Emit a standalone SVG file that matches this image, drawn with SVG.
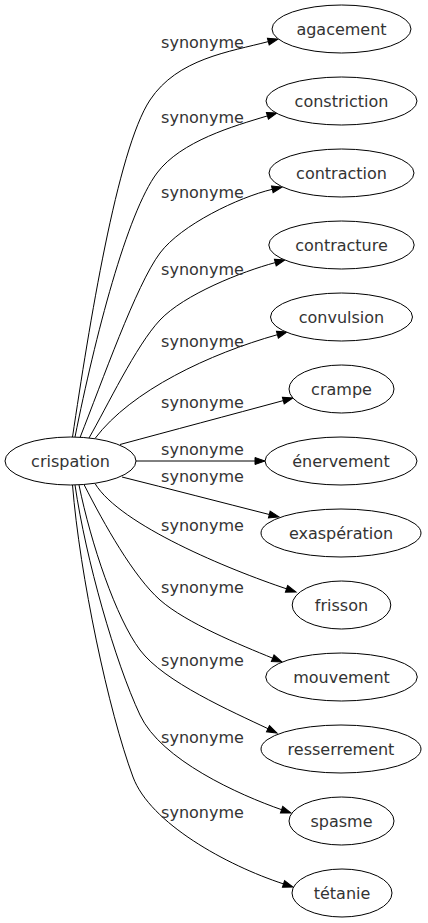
<svg xmlns="http://www.w3.org/2000/svg" width="428" height="923" viewBox="0 0 428 923">
<style>
.n ellipse{fill:#fff;stroke:#000;stroke-width:1}
.n text{font-family:"DejaVu Sans",sans-serif;font-size:16px;fill:#333;text-anchor:middle}
.e path{fill:none;stroke:#000;stroke-width:1;marker-end:url(#ah)}
.e text{font-family:"DejaVu Sans",sans-serif;font-size:16px;fill:#333;text-anchor:middle}
</style>
<defs>
<marker id="ah" markerUnits="userSpaceOnUse" markerWidth="12" markerHeight="10" refX="0" refY="5" orient="auto" viewBox="0 0 12 10" overflow="visible">
<polygon points="0,1.5 10,5 0,8.5" fill="#000" stroke="#000" stroke-width="1"/>
</marker>
</defs>
<rect width="428" height="923" fill="#fff"/>
<g id="edges" class="e">
<path d="M72.5,437 C89,327 117,150 150,100 C177.5,58.5 229.6,51.8 268.3,41.6"/>
<path d="M75,437 C95,337 127,213 157,173 C181,141 233.9,126 267.4,115.9"/>
<path d="M80,437.6 C102,382 136,285 160,253 C181,225 238.2,197.4 272.3,189.3"/>
<path d="M89,438 C106.8,407.2 135.9,345.6 160,320 C184,294.5 241.5,271.7 275.3,262.6"/>
<path d="M95,438.5 C131,390.5 210,353.6 277.4,334.7"/>
<path d="M120,444.5 C170,431 230,415 283.3,400.6"/>
<path d="M136,461 L255,461"/>
<path d="M122,477 C170,489 220,502 269.3,514.5"/>
<path d="M95,483.5 C120,525 229.6,569.8 286.5,588.8"/>
<path d="M84,484.5 C104.3,524.6 133.8,576.9 160,600 C186.3,623.1 240.3,644.9 272.7,658.2"/>
<path d="M79,485 C91,543.8 116,618 140,650 C164,682 232,711.5 268,728.7"/>
<path d="M75,485 C86,560 114.8,661 140,715 C161,760 239.3,794.9 281.6,809.7"/>
<path d="M72.5,485 C79.7,575 108.5,711.2 133,777 C150,823 226.5,865.3 283.5,883.9"/>
<text x="202.5" y="47.7">synonyme</text>
<text x="202.5" y="123.3">synonyme</text>
<text x="202.5" y="198">synonyme</text>
<text x="202.5" y="275">synonyme</text>
<text x="202.5" y="346.7">synonyme</text>
<text x="202.5" y="408.3">synonyme</text>
<text x="202.5" y="455">synonyme</text>
<text x="202.5" y="482">synonyme</text>
<text x="202.5" y="531">synonyme</text>
<text x="202.5" y="593">synonyme</text>
<text x="202.5" y="666">synonyme</text>
<text x="202.5" y="743">synonyme</text>
<text x="202.5" y="818">synonyme</text>
</g>
<g id="crispation" class="n"><ellipse cx="70.5" cy="461" rx="65.5" ry="24"/><text x="70.5" y="466.5">crispation</text></g>
<g id="agacement" class="n"><ellipse cx="341.5" cy="29" rx="69.5" ry="24"/><text x="341.5" y="34.5">agacement</text></g>
<g id="constriction" class="n"><ellipse cx="341.5" cy="101" rx="75.5" ry="24"/><text x="341.5" y="106.5">constriction</text></g>
<g id="contraction" class="n"><ellipse cx="341.5" cy="173" rx="72.5" ry="24"/><text x="341.5" y="178.5">contraction</text></g>
<g id="contracture" class="n"><ellipse cx="341.5" cy="245" rx="72.7" ry="24"/><text x="341.5" y="250.5">contracture</text></g>
<g id="convulsion" class="n"><ellipse cx="341.5" cy="317" rx="71" ry="24"/><text x="341.5" y="322.5">convulsion</text></g>
<g id="crampe" class="n"><ellipse cx="341.5" cy="389" rx="52.5" ry="24"/><text x="341.5" y="394.5">crampe</text></g>
<g id="enervement" class="n"><ellipse cx="341" cy="461" rx="76" ry="24"/><text x="341" y="466.5">énervement</text></g>
<g id="exasperation" class="n"><ellipse cx="341" cy="533" rx="80" ry="24"/><text x="341" y="538.5">exaspération</text></g>
<g id="frisson" class="n"><ellipse cx="341.5" cy="605" rx="49.3" ry="24"/><text x="341.5" y="610.5">frisson</text></g>
<g id="mouvement" class="n"><ellipse cx="341.5" cy="677" rx="75.8" ry="24"/><text x="341.5" y="682.5">mouvement</text></g>
<g id="resserrement" class="n"><ellipse cx="341" cy="749" rx="80" ry="24"/><text x="341" y="754.5">resserrement</text></g>
<g id="spasme" class="n"><ellipse cx="341.5" cy="821" rx="52.5" ry="24"/><text x="341.5" y="826.5">spasme</text></g>
<g id="tetanie" class="n"><ellipse cx="342" cy="893" rx="50" ry="24"/><text x="342" y="898.5">tétanie</text></g>
</svg>
